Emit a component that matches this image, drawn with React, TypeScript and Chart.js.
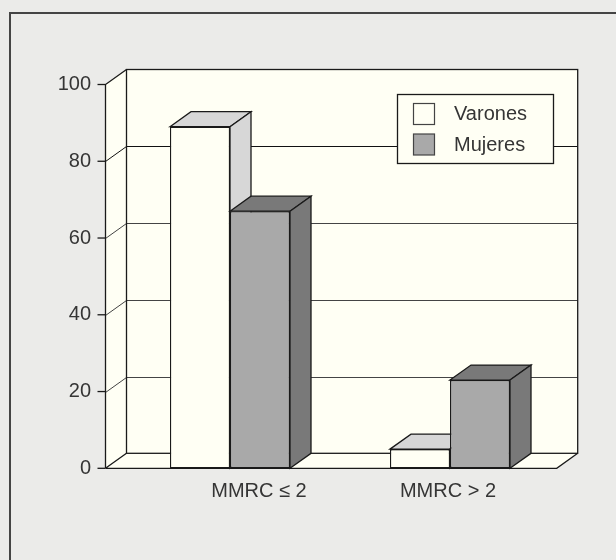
import React, { useEffect, useRef } from "react";
import { Chart, registerables } from "chart.js";

Chart.register(...registerables);

const categories = ["MMRC ≤ 2", "MMRC > 2"];
const seriesNames = ["Varones", "Mujeres"];
const varones = [89, 5];
const mujeres = [67, 23];
const yMin = 0;
const yMax = 100;
const yStep = 20;

const FONT = '"Liberation Sans", Arial, sans-serif';
const TEXT = "#353535";
const WALL = "#fffff4";
const LINE = "#1a1a1a";

// 3D depth offset
const DX = 21;
const DY = -15;

const faceStyles = [
  { front: "#fffff4", top: "#d7d7d7", side: "#d7d7d7" },
  { front: "#a9a9a9", top: "#797979", side: "#797979" },
];

const labelNudge = [29, -2];

const threeD = {
  id: "threeD",
  beforeDatasetsDraw(chart: any) {
    const { ctx, scales } = chart;
    const y = scales.y;
    const area = chart.chartArea;
    const fl = area.left - 14.5; // front-left axis x
    const fr = area.right - 3.3; // front-right floor x
    const yTop = y.getPixelForValue(yMax);
    const yBot = y.getPixelForValue(yMin);
    ctx.save();
    ctx.fillStyle = WALL;
    ctx.fillRect(fl + DX, yTop + DY, fr - fl, yBot - yTop);
    ctx.beginPath();
    ctx.moveTo(fl, yTop);
    ctx.lineTo(fl + DX, yTop + DY);
    ctx.lineTo(fl + DX, yBot + DY);
    ctx.lineTo(fl, yBot);
    ctx.closePath();
    ctx.fill();
    ctx.beginPath();
    ctx.moveTo(fl, yBot);
    ctx.lineTo(fl + DX, yBot + DY);
    ctx.lineTo(fr + DX, yBot + DY);
    ctx.lineTo(fr, yBot);
    ctx.closePath();
    ctx.fill();

    ctx.lineWidth = 1;
    for (let v = yMin + yStep; v < yMax; v += yStep) {
      const py = Math.round(y.getPixelForValue(v)) + 0.5;
      ctx.strokeStyle = v === 80 ? "#111" : "#444";
      ctx.beginPath();
      ctx.moveTo(fl, py);
      ctx.lineTo(fl + DX, py + DY);
      ctx.lineTo(fr + DX, py + DY);
      ctx.stroke();
    }
    ctx.strokeStyle = LINE;
    ctx.lineWidth = 1.3;
    ctx.strokeRect(fl + DX, yTop + DY, fr - fl, yBot - yTop);
    ctx.beginPath();
    ctx.moveTo(fl, yBot);
    ctx.lineTo(fl, yTop);
    ctx.lineTo(fl + DX, yTop + DY);
    ctx.moveTo(fl, yBot);
    ctx.lineTo(fl + DX, yBot + DY);
    ctx.moveTo(fl, yBot);
    ctx.lineTo(fr, yBot);
    ctx.lineTo(fr + DX, yBot + DY);
    ctx.stroke();
    for (let v = yMin; v <= yMax; v += yStep) {
      const py = y.getPixelForValue(v);
      ctx.beginPath();
      ctx.moveTo(fl - 8, py);
      ctx.lineTo(fl, py);
      ctx.stroke();
    }
    ctx.restore();
  },
  afterDatasetsDraw(chart: any) {
    const { ctx, scales } = chart;
    const x = scales.x;
    ctx.save();
    // bars: front (library element), then top and side, in series order
    chart.data.datasets.forEach((_ds: any, i: number) => {
      const meta = chart.getDatasetMeta(i);
      const st = faceStyles[i] || faceStyles[0];
      meta.data.forEach((el: any) => {
        el.draw(ctx);
        const p = el.getProps(["x", "y", "base", "width"], true);
        const l = p.x - p.width / 2;
        const r = p.x + p.width / 2;
        ctx.strokeStyle = LINE;
        ctx.lineWidth = 1.3;
        ctx.fillStyle = st.top;
        ctx.beginPath();
        ctx.moveTo(l, p.y);
        ctx.lineTo(l + DX, p.y + DY);
        ctx.lineTo(r + DX, p.y + DY);
        ctx.lineTo(r, p.y);
        ctx.closePath();
        ctx.fill();
        ctx.stroke();
        ctx.fillStyle = st.side;
        ctx.beginPath();
        ctx.moveTo(r, p.y);
        ctx.lineTo(r + DX, p.y + DY);
        ctx.lineTo(r + DX, p.base + DY);
        ctx.lineTo(r, p.base);
        ctx.closePath();
        ctx.fill();
        ctx.stroke();
      });
    });
    // category labels
    ctx.font = `20px ${FONT}`;
    ctx.fillStyle = TEXT;
    ctx.textAlign = "center";
    ctx.textBaseline = "middle";
    const yBot = scales.y.getPixelForValue(yMin);
    categories.forEach((c, i) => {
      ctx.fillText(c, x.getPixelForValue(i) + labelNudge[i], yBot + 23);
    });
    // legend
    const bx = 397.5, by = 94.5, bw = 156, bh = 69;
    ctx.fillStyle = WALL;
    ctx.fillRect(bx, by, bw, bh);
    ctx.strokeStyle = LINE;
    ctx.lineWidth = 1.3;
    ctx.strokeRect(bx, by, bw, bh);
    chart.data.datasets.forEach((ds: any, i: number) => {
      const sy = 103.5 + i * 30.5;
      ctx.fillStyle = ds.backgroundColor;
      ctx.fillRect(413.5, sy, 21, 21);
      ctx.strokeStyle = "#444";
      ctx.lineWidth = 1.2;
      ctx.strokeRect(413.5, sy, 21, 21);
      ctx.fillStyle = TEXT;
      ctx.textAlign = "left";
      ctx.textBaseline = "middle";
      ctx.font = `20px ${FONT}`;
      ctx.fillText(ds.label, 454, sy + 11);
    });
    ctx.restore();
  },
};

export default function App() {
  const ref = useRef<HTMLCanvasElement | null>(null);
  useEffect(() => {
    if (!ref.current) return;
    const chart = new Chart(ref.current, {
      type: "bar",
      data: {
        labels: categories,
        datasets: [
          {
            label: seriesNames[0],
            data: varones,
            backgroundColor: faceStyles[0].front,
            borderColor: LINE,
            borderWidth: 1.3,
            borderSkipped: false,
            categoryPercentage: 0.5455,
            barPercentage: 1,
          },
          {
            label: seriesNames[1],
            data: mujeres,
            backgroundColor: faceStyles[1].front,
            borderColor: LINE,
            borderWidth: 1.3,
            borderSkipped: false,
            categoryPercentage: 0.5455,
            barPercentage: 1,
          },
        ],
      },
      options: {
        animation: false,
        responsive: false,
        devicePixelRatio: 1,
        layout: { padding: { top: 84.5, bottom: 91.7, left: 0, right: 56 } },
        plugins: { legend: { display: false }, tooltip: { enabled: false } },
        scales: {
          x: { type: "category", display: false, grid: { display: false } },
          y: {
            min: yMin,
            max: yMax,
            grid: { display: false, drawTicks: false },
            border: { display: false },
            ticks: {
              stepSize: yStep,
              padding: 29,
              color: TEXT,
              font: { family: FONT, size: 20 },
            },
            afterFit: (s: any) => {
              s.width = 120;
            },
          },
        },
      },
      plugins: [threeD],
    } as any);
    return () => chart.destroy();
  }, []);
  return (
    <div
      style={{
        position: "fixed",
        left: 0,
        top: 0,
        width: 616,
        height: 560,
        background: "#ebebe9",
        overflow: "hidden",
      }}
    >
      <div
        style={{
          position: "absolute",
          left: 9,
          top: 12,
          width: 700,
          height: 700,
          borderLeft: "2px solid #444",
          borderTop: "2px solid #444",
        }}
      />
      <canvas
        ref={ref}
        width={616}
        height={560}
        style={{ position: "absolute", left: 0, top: 0, width: 616, height: 560 }}
      />
    </div>
  );
}
